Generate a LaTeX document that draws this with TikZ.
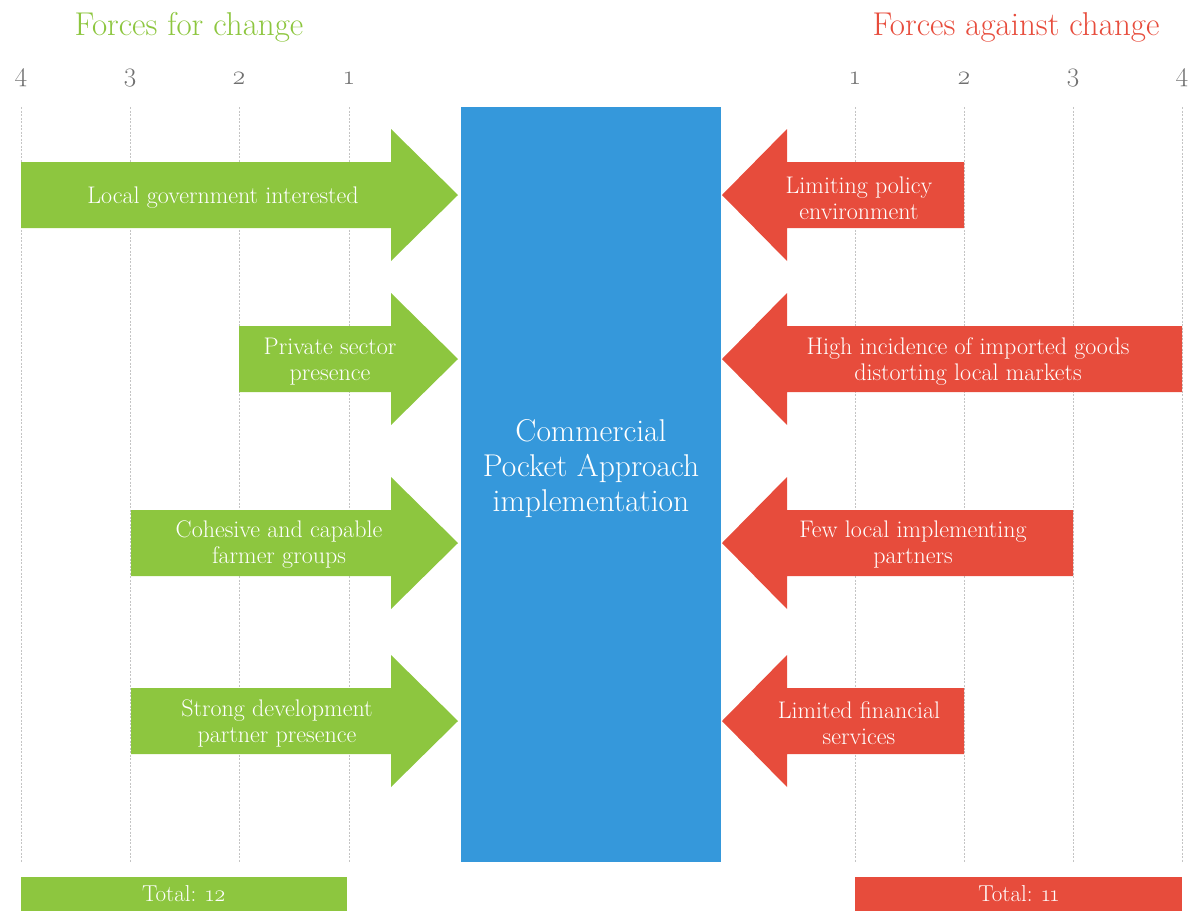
\documentclass[tikz,border=0pt]{standalone}
\usepackage{fontspec}
\setmainfont{Latin Modern Roman}[Numbers=OldStyle]
\definecolor{forgreen}{HTML}{8DC63F}
\definecolor{againstred}{HTML}{E74C3C}
\definecolor{coreblue}{HTML}{3598DB}
\definecolor{axisgray}{HTML}{707070}
\definecolor{gridgray}{HTML}{C4C4C4}

% force arrows: body from the given x to the head, centred on the given y
\newcommand\forarrow[2]{%
  \fill[forgreen] ({#1},{#2-33}) -- (391,{#2-33}) -- (391,{#2-66}) -- (458,{#2})
    -- (391,{#2+66}) -- (391,{#2+33}) -- ({#1},{#2+33}) -- cycle;}
\newcommand\againstarrow[2]{%
  \fill[againstred] ({#1},{#2-33}) -- (787,{#2-33}) -- (787,{#2-66}) -- (722,{#2})
    -- (787,{#2+66}) -- (787,{#2+33}) -- ({#1},{#2+33}) -- cycle;}

\begin{document}
\begin{tikzpicture}[x=1pt,y=-1pt,
  grid line/.style={gridgray, dash pattern=on 2pt off 1.5pt, line width=0.8pt},
  axis num/.style={text=axisgray, font=\fontsize{27}{27}\selectfont},
  heading/.style={font=\fontsize{33}{33}\selectfont},
  force label/.style={text=white, align=center, font=\fontsize{24}{26}\selectfont},
  total bar/.style={text=white, minimum width=326pt, minimum height=34pt,
    inner sep=0pt, font=\fontsize{23}{23}\selectfont},
]
\useasboundingbox (0,0) rectangle (1195,911);

% headings
\node[heading, text=forgreen] (fortitle) at (189,27) {Forces for change};
\node[heading, text=againstred] (againsttitle) at (1016,27) {Forces against change};

% scale grid
\foreach \x/\n/\k in {21/4/l4, 130/3/l3, 239/2/l2, 349/1/l1,
                      855/1/r1, 964/2/r2, 1073/3/r3, 1182/4/r4} {
  \node[axis num] (num\k) at (\x,78) {\n};
  \draw[grid line] (\x,107) -- (\x,862);
}

% central change box
\node[fill=coreblue, minimum width=260pt, minimum height=755pt, inner sep=0pt]
  (core) at (591,484.5) {};
\node[text=white, align=center, font=\fontsize{31.5}{35}\selectfont]
  (coretext) at (591,469) {Commercial\\Pocket Approach\\implementation};

% forces for change
\forarrow{21}{195}
\forarrow{239}{359}
\forarrow{131}{543}
\forarrow{131}{721}
\node[force label] (f1) at (223,198) {Local government interested};
\node[force label] (f2) at (330,362) {Private sector\\presence};
\node[force label] (f3) at (279,545) {Cohesive and capable\\farmer groups};
\node[force label] (f4) at (277,723) {Strong development\\partner presence};

% forces against change
\againstarrow{964}{195}
\againstarrow{1182}{359}
\againstarrow{1073}{543}
\againstarrow{964}{721}
\node[force label] (a1) at (859,198) {Limiting policy\\environment};
\node[force label] (a2) at (968,362) {High incidence of imported goods\\distorting local markets};
\node[force label] (a3) at (913,545) {Few local implementing\\partners};
\node[force label] (a4) at (859,723) {Limited financial\\services};

% totals
\node[total bar, fill=forgreen] (fortotal) at (184,894) {Total: 12};
\node[total bar, fill=againstred, minimum width=327pt] (againsttotal) at (1018.5,894) {Total: 11};
\end{tikzpicture}
\end{document}
